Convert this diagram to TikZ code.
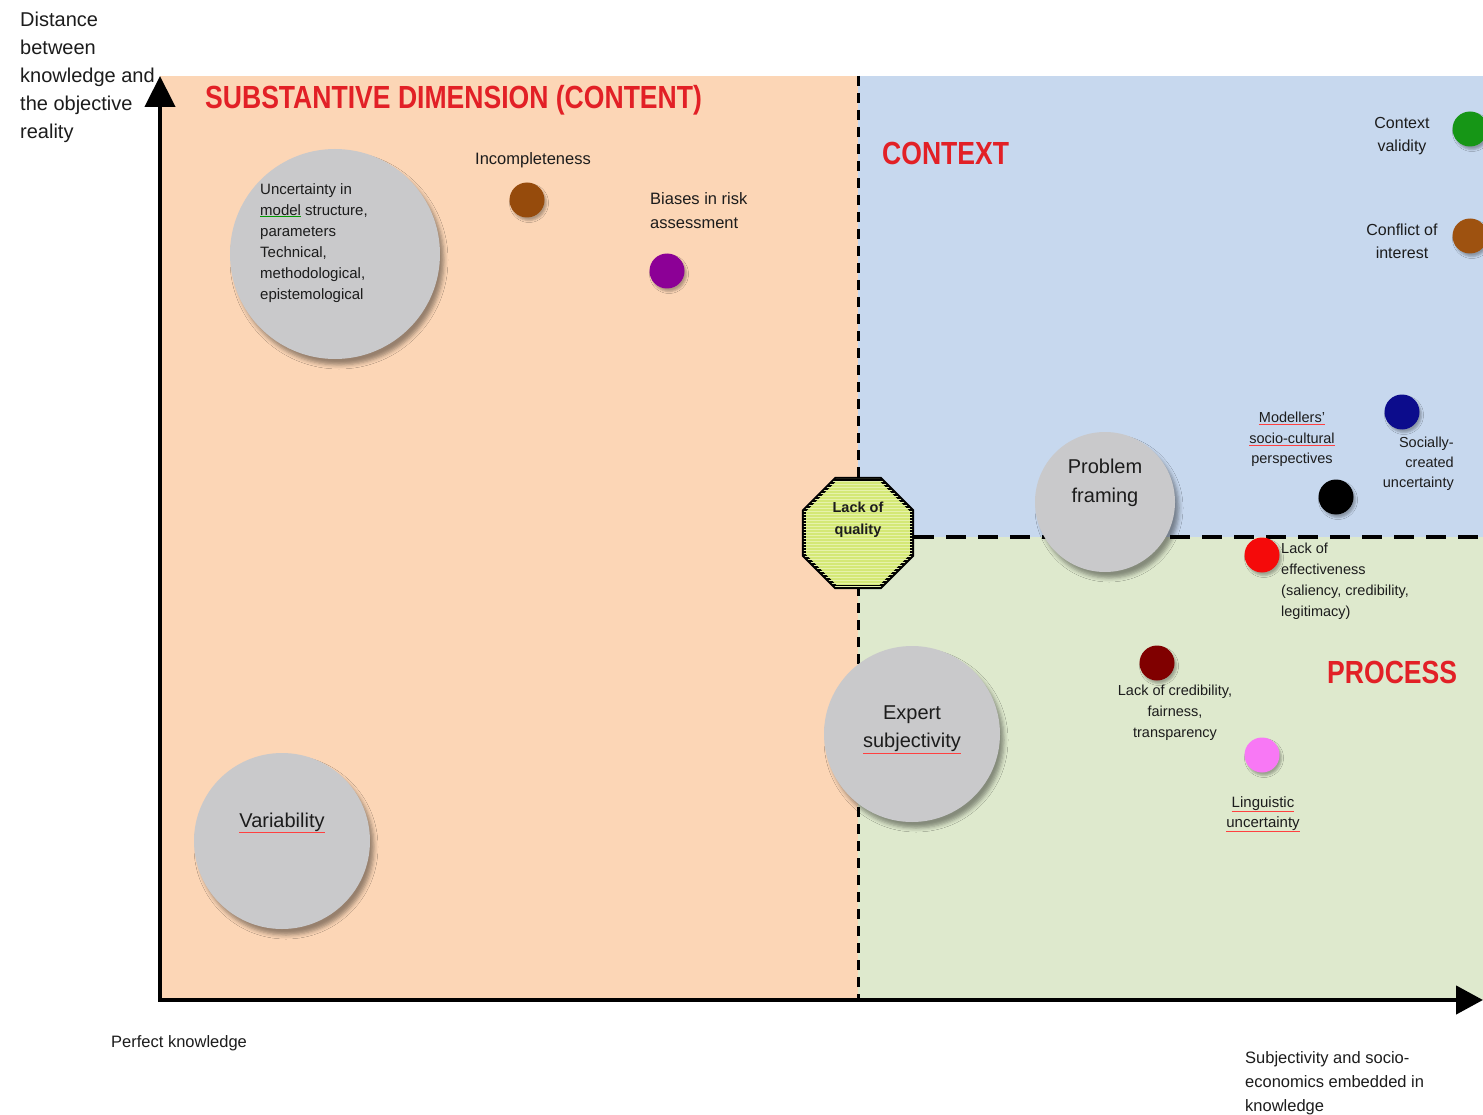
\documentclass[tikz,border=0pt]{standalone}
\usepackage{fontspec}
\setmainfont{Liberation Sans}
\usetikzlibrary{arrows.meta,shapes.geometric,shadows.blur,patterns}

\definecolor{contentbg}{RGB}{252,214,182}
\definecolor{contextbg}{RGB}{199,216,238}
\definecolor{processbg}{RGB}{222,233,205}
\definecolor{ballgray}{RGB}{201,201,203}
\definecolor{ink}{RGB}{28,28,28}
\definecolor{titlered}{RGB}{226,32,38}
\definecolor{octafill}{RGB}{212,232,118}
\definecolor{octastripe}{RGB}{230,242,170}
\definecolor{incbrown}{RGB}{150,75,12}
\definecolor{biaspurple}{RGB}{140,0,150}
\definecolor{validgreen}{RGB}{22,150,22}
\definecolor{conflictbrown}{RGB}{158,82,16}
\definecolor{socialnavy}{RGB}{12,12,140}
\definecolor{effred}{RGB}{245,10,10}
\definecolor{creddark}{RGB}{128,0,0}
\definecolor{lingpink}{RGB}{248,120,245}

% spell-check style underlines
\newcommand\spellred[1]{{\color{red!75}\underline{\color{ink}#1}}}
\newcommand\spellgreen[1]{{\color{green!60!black}\underline{\color{ink}#1}}}

\tikzset{
  txt/.style 2 args={inner sep=0pt, text=ink, font=\fontsize{#1}{#2}\selectfont},
  titletxt/.style={inner sep=0pt, text=titlered, font=\fontsize{32}{36}\selectfont\bfseries},
  bigball/.style={circle, fill=ballgray, inner sep=0pt,
    blur shadow={shadow xshift=4pt, shadow yshift=-6pt, shadow blur radius=4pt, shadow opacity=40}},
  dot/.style={circle, minimum size=35, inner sep=0pt,
    blur shadow={shadow xshift=2pt, shadow yshift=-3pt, shadow blur radius=2pt, shadow opacity=30}},
  octa/.style={regular polygon, regular polygon sides=8, minimum size=117, inner sep=0pt,
    draw=black, line width=4pt, fill=octafill,
    postaction={pattern=horizontal lines, pattern color=octastripe}},
  axis/.style={line width=4.5pt, draw=black},
  vdash/.style={line width=3pt, dash pattern=on 10pt off 7pt},
  hdash/.style={line width=3.5pt, dash pattern=on 20pt off 12pt},
}

\begin{document}
\begin{tikzpicture}[x=1pt,y=-1pt]
\useasboundingbox (0,0) rectangle (1483,1115);
\fill[white] (0,0) rectangle (1483,1115);

% quadrants
\fill[contentbg] (160,76) rectangle (858,1000);
\fill[contextbg] (858,76) rectangle (1483,537);
\fill[processbg] (858,537) rectangle (1483,1000);

% boundaries between the dimensions
\coordinate (vtop) at (858,76);
\coordinate (vbot) at (858,1000);
\coordinate (hright) at (1483,537);
\draw[vdash] (vtop) -- (vbot);

% axes
\coordinate (origin) at (160,1000);
\coordinate (ytip) at (160,76);
\coordinate (xtip) at (1483,1000);
\draw[axis, {Triangle[length=31pt,width=30pt]}-{Triangle[length=27pt,width=28pt]}] (ytip) -- (origin) -- (xtip);

% lack of quality hub
\node[octa] (quality) at (858,533) {};
\draw[hdash] (quality.east |- hright) -- (hright);
\node[txt={14.5}{22}, font=\fontsize{14.5}{22}\selectfont\bfseries, align=center, anchor=north] (qualitytxt) at (858,502) {Lack of\\quality};

% titles
\node[titletxt, anchor=base west] (substitle) at (205,108.5) {\scalebox{0.83}[1]{SUBSTANTIVE DIMENSION (CONTENT)}};
\node[titletxt, anchor=base west] (contexttitle) at (882,164.5) {\scalebox{0.83}[1]{CONTEXT}};
\node[titletxt, anchor=base west] (processtitle) at (1327,683.5) {\scalebox{0.83}[1]{PROCESS}};

% large sources of uncertainty
\node[bigball, minimum size=210] (modelball) at (335,254) {};
\node[txt={15}{21}, anchor=north west, align=left] (modeltxt) at (260,183)
  {Uncertainty in\\\spellgreen{model} structure,\\parameters\\Technical,\\methodological,\\epistemological};

\node[bigball, minimum size=176] (varball) at (282,841) {};
\node[txt={20}{24}, anchor=base] (vartxt) at (282,827) {\spellred{Variability}};

\node[bigball, minimum size=140] (frameball) at (1105,502) {};
\node[txt={20}{29}, anchor=north, align=center] (frametxt) at (1105,459) {Problem\\framing};

\node[bigball, minimum size=176] (expertball) at (912,734) {};
\node[txt={20}{28}, anchor=north, align=center] (experttxt) at (912,706) {Expert\\\spellred{subjectivity}};

% small sources of uncertainty
\node[dot, fill=incbrown] (incdot) at (527,200) {};
\node[txt={16.5}{20}, anchor=base] (inctxt) at (533,165) {Incompleteness};

\node[dot, fill=biaspurple] (biasdot) at (667,271) {};
\node[txt={16.5}{24}, anchor=north west, align=left] (biastxt) at (650,192) {Biases in risk\\assessment};

\node[dot, fill=validgreen] (validdot) at (1470,129) {};
\node[txt={16}{23}, anchor=north, align=center] (validtxt) at (1402,117) {Context\\validity};

\node[dot, fill=conflictbrown] (conflictdot) at (1470,236) {};
\node[txt={16}{23}, anchor=north, align=center] (conflicttxt) at (1402,224) {Conflict of\\interest};

\node[dot, fill=socialnavy] (socialdot) at (1402,412) {};
\node[txt={14.5}{20}, anchor=north east, align=right] (socialtxt) at (1454,437) {Socially-\\created\\uncertainty};

\node[dot, fill=black] (modeldot) at (1336,497) {};
\node[txt={14.5}{20.5}, anchor=north, align=center] (modellertxt) at (1292,412)
  {\spellred{Modellers'}\\\spellred{socio-cultural}\\perspectives};

\node[dot, fill=effred] (effdot) at (1262,555) {};
\node[txt={14.5}{21}, anchor=north west, align=left] (efftxt) at (1281,543)
  {Lack of\\effectiveness\\(saliency, credibility,\\legitimacy)};

\node[dot, fill=creddark] (creddot) at (1157,663) {};
\node[txt={14.5}{21}, anchor=north, align=center] (credtxt) at (1175,685)
  {Lack of credibility,\\fairness,\\transparency};

\node[dot, fill=lingpink] (lingdot) at (1262,755) {};
\node[txt={15}{20}, anchor=north, align=center] (lingtxt) at (1263,796)
  {\spellred{Linguistic}\\\spellred{uncertainty}};

% axis labels
\node[txt={20}{28}, anchor=north west, align=left] (ylabel) at (20,12)
  {Distance\\between\\knowledge and\\the objective\\reality};
\node[txt={16.5}{20}, anchor=base west] (originlabel) at (111,1047) {Perfect knowledge};
\node[txt={16.5}{24}, anchor=north west, align=left] (xlabel) at (1245,1051)
  {Subjectivity and socio-\\economics embedded in\\knowledge};
\end{tikzpicture}
\end{document}
